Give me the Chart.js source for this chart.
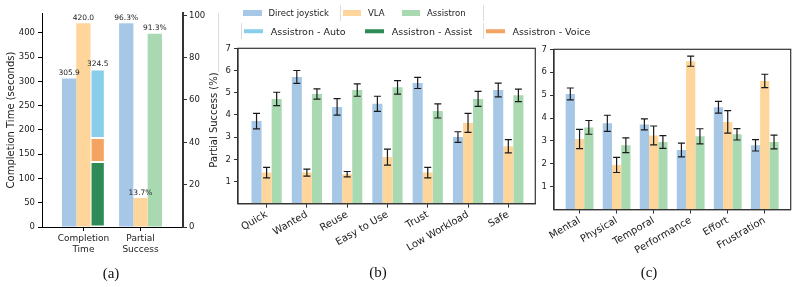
<!DOCTYPE html>
<html>
<head>
<meta charset="utf-8">
<script src="https://cdn.jsdelivr.net/npm/chart.js@4.4.1/dist/chart.umd.min.js"></script>
<style>
  html, body { margin: 0; padding: 0; background: #fff; }
  body { width: 799px; height: 287px; position: relative; overflow: hidden; font-family: "DejaVu Sans", sans-serif; color: #222; }
  .panel { position: absolute; top: 0; }
  .caption { position: absolute; font-family: "Liberation Serif", serif; font-size: 15px; color: #111; transform: translate(-50%, -50%); }
  .lg { position: absolute; white-space: nowrap; transform: translateY(-50%); color: #222; }
  .sw { position: absolute; transform: translateY(-50%); }
  .sep { position: absolute; width: 1px; background: #dcdcdc; }
</style>
</head>
<body>
<div class="panel" style="left:0;width:222px;height:287px"><canvas id="chartA" width="222" height="287"></canvas></div>
<div class="panel" style="left:222px;width:318px;height:287px"><canvas id="chartB" width="318" height="287"></canvas></div>
<div class="panel" style="left:540px;width:259px;height:287px"><canvas id="chartC" width="259" height="287"></canvas></div>
<div id="legend"></div>
<div class="caption" style="left:111px;top:273px">(a)</div>
<div class="caption" style="left:378px;top:272px">(b)</div>
<div class="caption" style="left:649px;top:272px">(c)</div>
<script>
// ---- data ----
const panelACategories = [['Completion', 'Time'], ['Partial', 'Success']];
const completionTimes = [305.9, 420.0];            // Direct joystick, VLA
const assistronTimeParts = [134.0, 49.5, 141.0];   // Assist, Voice, Auto
const partialSuccess = [96.3, 13.7, 91.3];         // Direct joystick, VLA, Assistron
const timeTicks = [0, 50, 100, 150, 200, 250, 300, 350, 400];
const successTicks = [0, 20, 40, 60, 80, 100];

const surveyCategories = ['Quick', 'Wanted', 'Reuse', 'Easy to Use', 'Trust', 'Low Workload', 'Safe'];
const surveyJoystick = [3.72, 5.71, 4.36, 4.50, 5.44, 3.00, 5.12];
const surveyJoystickErr = [0.35, 0.29, 0.37, 0.34, 0.25, 0.24, 0.31];
const surveyVLA = [1.40, 1.40, 1.33, 2.10, 1.40, 3.64, 2.59];
const surveyVLAErr = [0.24, 0.16, 0.12, 0.36, 0.24, 0.43, 0.30];
const surveyAssistron = [4.72, 4.94, 5.12, 5.24, 4.18, 4.72, 4.88];
const surveyAssistronErr = [0.30, 0.23, 0.28, 0.30, 0.32, 0.34, 0.28];

const tlxCategories = ['Mental', 'Physical', 'Temporal', 'Performance', 'Effort', 'Frustration'];
const tlxJoystick = [5.05, 3.77, 3.72, 2.60, 4.47, 2.81];
const tlxJoystickErr = [0.26, 0.35, 0.24, 0.30, 0.26, 0.25];
const tlxVLA = [3.08, 1.95, 3.24, 6.48, 3.83, 5.62];
const tlxVLAErr = [0.42, 0.33, 0.41, 0.22, 0.49, 0.29];
const tlxAssistron = [3.59, 2.81, 2.95, 3.20, 3.29, 2.95];
const tlxAssistronErr = [0.30, 0.32, 0.28, 0.33, 0.25, 0.30];
const scoreTicks = [1, 2, 3, 4, 5, 6, 7];

const seriesNames = ['Direct joystick', 'VLA', 'Assistron'];
const modeNames = ['Assistron - Auto', 'Assistron - Assist', 'Assistron - Voice'];
const timeTitle = 'Completion Time (seconds)';
const successTitle = 'Partial Success (%)';

// ---- colours ----
const blue = '#a7c7e7';
const orange = '#fed69c';
const green = '#a8d9b1';
const autoColor = '#87ceeb';
const assistColor = '#2e8b57';
const voiceColor = '#f4a460';

Chart.defaults.font.family = '"DejaVu Sans", sans-serif';
Chart.defaults.font.size = 8;
Chart.defaults.color = '#222';
Chart.defaults.animation = false;

// error bars drawn from dataset.errors
const errorBars = {
    id: 'errorBars',
    afterDatasetsDraw(chart) {
        const ctx = chart.ctx;
        ctx.save();
        ctx.strokeStyle = '#1a1a1a';
        ctx.lineWidth = 1.2;
        chart.data.datasets.forEach((ds, i) => {
            if (!ds.errors) return;
            const meta = chart.getDatasetMeta(i);
            const yScale = chart.scales[meta.yAxisID];
            meta.data.forEach((bar, j) => {
                const v = ds.data[j].y;
                const e = ds.errors[j];
                const top = yScale.getPixelForValue(v + e);
                const bot = yScale.getPixelForValue(v - e);
                ctx.beginPath();
                ctx.moveTo(bar.x, top); ctx.lineTo(bar.x, bot);
                ctx.moveTo(bar.x - 3.5, top); ctx.lineTo(bar.x + 3.5, top);
                ctx.moveTo(bar.x - 3.5, bot); ctx.lineTo(bar.x + 3.5, bot);
                ctx.stroke();
            });
        });
        ctx.restore();
    }
};

// box around plot area
const frame = {
    id: 'frame',
    afterDraw(chart) {
        const a = chart.chartArea;
        const ctx = chart.ctx;
        ctx.save();
        ctx.strokeStyle = '#333';
        ctx.lineWidth = 1.2;
        ctx.strokeRect(a.left, a.top, a.right - a.left, a.bottom - a.top);
        ctx.restore();
    }
};

// value labels above the bars of panel (a)
const valueLabels = {
    id: 'valueLabels',
    afterDatasetsDraw(chart) {
        const ctx = chart.ctx;
        ctx.save();
        ctx.font = '7.5px "DejaVu Sans"';
        ctx.fillStyle = '#222';
        ctx.textAlign = 'center';
        ctx.textBaseline = 'bottom';
        chart.data.datasets.forEach((ds, i) => {
            if (!ds.topLabel) return;
            const bar = chart.getDatasetMeta(i).data[0];
            ctx.fillText(ds.topLabel, bar.x, bar.y - 1.5);
        });
        ctx.restore();
    }
};

// right axis title, reading bottom to top like matplotlib
const rightTitle = {
    id: 'rightTitle',
    afterDraw(chart) {
        const s = chart.scales.yR;
        const ctx = chart.ctx;
        ctx.save();
        ctx.font = '10px "DejaVu Sans"';
        ctx.fillStyle = '#222';
        ctx.textAlign = 'center';
        ctx.textBaseline = 'middle';
        ctx.translate(s.right - 8, (s.top + s.bottom) / 2);
        ctx.rotate(-Math.PI / 2);
        ctx.fillText(successTitle, 0, 0);
        ctx.restore();
    }
};

// ---- panel (a) ----
const totalAssistronTime = assistronTimeParts.reduce((a, b) => a + b, 0);

new Chart(document.getElementById('chartA'), {
    type: 'bar',
    data: {
        datasets: [
            { label: seriesNames[0], data: [{ x: 0, y: completionTimes[0] }], backgroundColor: blue, yAxisID: 'yL', stack: 'a', topLabel: completionTimes[0].toFixed(1) },
            { label: seriesNames[1], data: [{ x: 0, y: completionTimes[1] }], backgroundColor: orange, yAxisID: 'yL', stack: 'b', topLabel: completionTimes[1].toFixed(1) },
            { label: modeNames[1], data: [{ x: 0, y: assistronTimeParts[0] }], backgroundColor: assistColor, borderColor: '#fff', borderWidth: 1, borderSkipped: false, yAxisID: 'yL', stack: 'c' },
            { label: modeNames[2], data: [{ x: 0, y: assistronTimeParts[1] }], backgroundColor: voiceColor, borderColor: '#fff', borderWidth: 1, borderSkipped: false, yAxisID: 'yL', stack: 'c' },
            { label: modeNames[0], data: [{ x: 0, y: assistronTimeParts[2] }], backgroundColor: autoColor, borderColor: '#fff', borderWidth: 1, borderSkipped: false, yAxisID: 'yL', stack: 'c', topLabel: totalAssistronTime.toFixed(1) },
            { label: seriesNames[0], data: [{ x: 1, y: partialSuccess[0] }], backgroundColor: blue, yAxisID: 'yR', stack: 'a', topLabel: partialSuccess[0].toFixed(1) + '%' },
            { label: seriesNames[1], data: [{ x: 1, y: partialSuccess[1] }], backgroundColor: orange, yAxisID: 'yR', stack: 'b', topLabel: partialSuccess[1].toFixed(1) + '%' },
            { label: seriesNames[2], data: [{ x: 1, y: partialSuccess[2] }], backgroundColor: green, yAxisID: 'yR', stack: 'c', topLabel: partialSuccess[2].toFixed(1) + '%' },
        ],
    },
    options: {
        responsive: false,
        devicePixelRatio: 1,
        categoryPercentage: 0.75,
        barPercentage: 1,
        layout: { padding: { top: 13, left: 0, right: 0, bottom: 0 } },
        plugins: { legend: { display: false }, tooltip: { enabled: false } },
        scales: {
            x: {
                type: 'linear', min: -0.725, max: 1.744, offset: false,
                afterBuildTicks: s => { s.ticks = panelACategories.map((c, i) => ({ value: i })); },
                afterFit: s => { s.height = 60; },
                grid: { offset: false, drawOnChartArea: false, tickLength: 4, color: '#000' },
                border: { color: '#000', width: 1 },
                ticks: { autoSkip: false, maxRotation: 0, padding: 2, font: { size: 9 }, callback: (v, i) => panelACategories[i] },
            },
            yL: {
                type: 'linear', position: 'left', stacked: true, min: 0, max: 441,
                afterBuildTicks: s => { s.ticks = timeTicks.map(v => ({ value: v })); },
                afterFit: s => { s.width = 42; },
                grid: { drawOnChartArea: false, tickLength: 4, color: '#000' },
                border: { color: '#000', width: 1 },
                ticks: { padding: 3, font: { size: 8.5 } },
                title: { display: true, text: timeTitle, font: { size: 10 }, padding: { top: 5, bottom: 2 } },
            },
            yR: {
                type: 'linear', position: 'right', min: 0, max: 101.1,
                afterBuildTicks: s => { s.ticks = successTicks.map(v => ({ value: v })); },
                afterFit: s => { s.width = 39; },
                grid: { drawOnChartArea: false, tickLength: 4, color: '#333' },
                border: { color: '#333', width: 2 },
                ticks: { padding: 2, font: { size: 8.5 } },
            },
        },
    },
    plugins: [valueLabels, rightTitle],
});

// ---- panels (b) and (c) ----
function makeScoreChart(id, categories, series, errors, xMin, xMax, axisWidth, xHeight, padding) {
    const colors = [blue, orange, green];
    return new Chart(document.getElementById(id), {
        type: 'bar',
        data: {
            datasets: series.map((vals, k) => ({
                label: seriesNames[k],
                data: vals.map((v, i) => ({ x: i, y: v })),
                errors: errors[k],
                backgroundColor: colors[k],
            })),
        },
        options: {
            responsive: false,
            devicePixelRatio: 1,
            categoryPercentage: 0.75,
            barPercentage: 1,
            layout: { padding: padding },
            plugins: { legend: { display: false }, tooltip: { enabled: false } },
            scales: {
                x: {
                    type: 'linear', min: xMin, max: xMax, offset: false,
                    afterBuildTicks: s => { s.ticks = categories.map((c, i) => ({ value: i })); },
                    afterFit: s => { s.height = xHeight; },
                    grid: { offset: false, drawOnChartArea: false, tickLength: 4, color: '#333' },
                    border: { color: '#333', width: 1.2 },
                    ticks: { autoSkip: false, minRotation: 30, maxRotation: 30, padding: 1, font: { size: 10 }, callback: (v, i) => categories[i] },
                },
                y: {
                    type: 'linear', min: 0, max: 7,
                    afterBuildTicks: s => { s.ticks = scoreTicks.map(v => ({ value: v })); },
                    afterFit: s => { s.width = axisWidth; },
                    grid: { drawOnChartArea: false, tickLength: 4, color: '#333' },
                    border: { color: '#333', width: 1.2 },
                    ticks: { padding: 3, font: { size: 8.5 } },
                },
            },
        },
        plugins: [errorBars, frame],
    });
}

makeScoreChart('chartB', surveyCategories,
    [surveyJoystick, surveyVLA, surveyAssistron],
    [surveyJoystickErr, surveyVLAErr, surveyAssistronErr],
    -0.71, 6.67, 16, 83.3, { top: 48.3, right: 4.7, left: 0, bottom: 0 });

makeScoreChart('chartC', tlxCategories,
    [tlxJoystick, tlxVLA, tlxAssistron],
    [tlxJoystickErr, tlxVLAErr, tlxAssistronErr],
    -0.69, 5.7, 14, 77.4, { top: 49.3, right: 8.3, left: 0, bottom: 0 });

// ---- legend (two rows) ----
const legendRows = [
    { names: seriesNames, colors: [blue, orange, green], xs: [243, 342.5, 401.5], y: 13, sw: 18.5, sh: 6, font: 8.5, gap: 25.5, seps: [340, 482.7] },
    { names: modeNames, colors: [autoColor, assistColor, voiceColor], xs: [244, 365, 485.7], y: 31, sw: 19, sh: 3.5, font: 9.5, gap: 26.7, seps: [241, 482.7] },
];
const legend = document.getElementById('legend');
legendRows.forEach(row => {
    row.names.forEach((name, i) => {
        const sw = document.createElement('div');
        sw.className = 'sw';
        sw.style.cssText = `left:${row.xs[i]}px;top:${row.y}px;width:${row.sw}px;height:${row.sh}px;background:${row.colors[i]}`;
        legend.appendChild(sw);
        const t = document.createElement('div');
        t.className = 'lg';
        t.style.cssText = `left:${row.xs[i] + row.gap}px;top:${row.y}px;font-size:${row.font}px`;
        t.textContent = name;
        legend.appendChild(t);
    });
    row.seps.forEach(x => {
        const s = document.createElement('div');
        s.className = 'sep';
        s.style.cssText = `left:${x}px;top:${row.y - 8}px;height:16px`;
        legend.appendChild(s);
    });
});
const edge = document.createElement('div');
edge.className = 'sep';
edge.style.cssText = 'left:218px;top:13px;height:59px';
legend.appendChild(edge);
</script>
</body>
</html>
